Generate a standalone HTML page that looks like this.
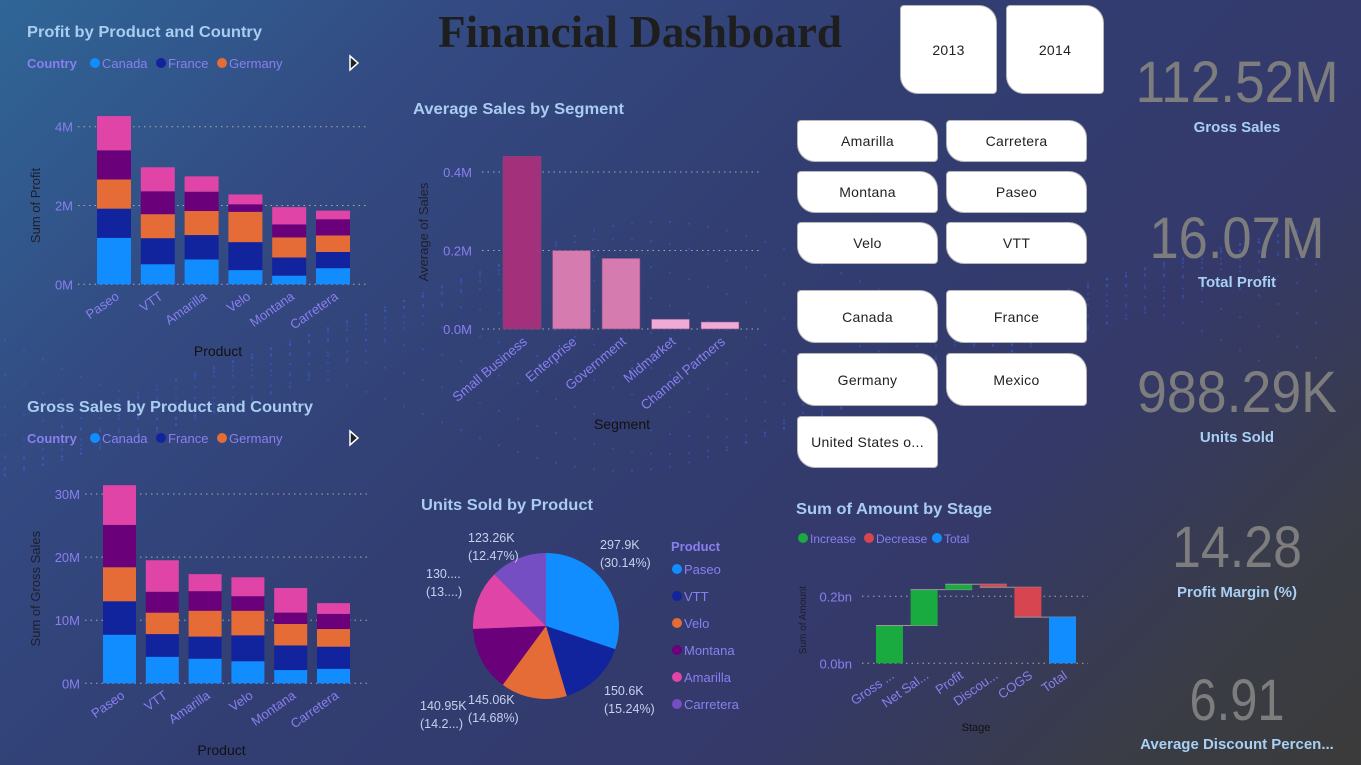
<!DOCTYPE html>
<html><head><meta charset="utf-8"><style>
html,body{margin:0;padding:0;width:1361px;height:765px;overflow:hidden}
body{background:linear-gradient(135deg,#2f6697 0%,#334a82 22%,#323e72 45%,#34396a 70%,#3a3c46 88%,#3b3b3b 100%);font-family:"Liberation Sans",sans-serif;position:relative}
svg{position:absolute;left:0;top:0}
.btn{position:absolute;background:#fff;border:1px solid #b8b8b8;box-sizing:border-box;display:flex;align-items:center;justify-content:center;font-size:14px;color:#222;border-radius:4px 18px 4px 18px;letter-spacing:0.3px}
</style></head><body>
<svg id="dash" width="1361" height="765"></svg>
<div class="btn" style="left:900px;top:5px;width:97px;height:89px">2013</div>
<div class="btn" style="left:1006px;top:5px;width:98px;height:89px">2014</div>
<div class="btn" style="left:797px;top:120px;width:141px;height:42px">Amarilla</div>
<div class="btn" style="left:946px;top:120px;width:141px;height:42px">Carretera</div>
<div class="btn" style="left:797px;top:171px;width:141px;height:42px">Montana</div>
<div class="btn" style="left:946px;top:171px;width:141px;height:42px">Paseo</div>
<div class="btn" style="left:797px;top:222px;width:141px;height:42px">Velo</div>
<div class="btn" style="left:946px;top:222px;width:141px;height:42px">VTT</div>
<div class="btn" style="left:797px;top:290px;width:141px;height:53px">Canada</div>
<div class="btn" style="left:946px;top:290px;width:141px;height:53px">France</div>
<div class="btn" style="left:797px;top:353px;width:141px;height:53px">Germany</div>
<div class="btn" style="left:946px;top:353px;width:141px;height:53px">Mexico</div>
<div class="btn" style="left:797px;top:416px;width:141px;height:52px">United States o...</div>
<script>
const products=["Paseo","VTT","Amarilla","Velo","Montana","Carretera"];
const countries=["Canada","France","Germany","Mexico","United States"];
const countryColors=["#118dff","#12239e","#e66c37","#6b007b","#e044a7"];
const profitCanada=[1.18,0.51,0.63,0.36,0.22,0.41];
const profitFrance=[0.74,0.66,0.62,0.71,0.46,0.41];
const profitGermany=[0.74,0.61,0.61,0.77,0.51,0.42];
const profitMexico=[0.74,0.58,0.49,0.19,0.33,0.41];
const profitUS=[0.87,0.61,0.39,0.25,0.44,0.22];
const profitTicks=[0,2,4];
const grossCanada=[7.7,4.2,3.9,3.5,2.1,2.3];
const grossFrance=[5.3,3.6,3.5,4.1,3.9,3.5];
const grossGermany=[5.4,3.4,4.1,3.9,3.4,2.8];
const grossMexico=[6.7,3.3,3.1,2.3,1.8,2.4];
const grossUS=[6.3,5.0,2.7,3.0,3.9,1.7];
const grossTicks=[0,10,20,30];
const segments=["Small Business","Enterprise","Government","Midmarket","Channel Partners"];
const segmentSales=[0.44,0.20,0.18,0.025,0.018];
const segmentTicks=[0,0.2,0.4];
const pieProducts=["Paseo","VTT","Velo","Montana","Amarilla","Carretera"];
const pieUnits=[297.9,150.6,145.06,140.95,130.0,123.26];
const pieLabels=[["297.9K","(30.14%)"],["150.6K","(15.24%)"],["145.06K","(14.68%)"],["140.95K","(14.2...)"],["130....","(13....)"],["123.26K","(12.47%)"]];
const stages=["Gross ...","Net Sal...","Profit","Discou...","COGS","Total"];
const stageDelta=[0.113,0.107,0.016,-0.009,-0.089,0];
const stageTicks=[0,0.2];
const kpiValues=["112.52M","16.07M","988.29K","14.28","6.91"];
const kpiLabels=["Gross Sales","Total Profit","Units Sold","Profit Margin (%)","Average Discount Percen..."];

const NS="http://www.w3.org/2000/svg";
const svg=document.getElementById('dash');
function el(tag,attrs,parent,text){const e=document.createElementNS(NS,tag);for(const k in attrs)e.setAttribute(k,attrs[k]);if(text!==undefined)e.textContent=text;(parent||svg).appendChild(e);return e;}
const LAV="#8a7ff0",TITLE="#a9cdf0";

// decorative dots wave
(function(){const g=el('g',{});
for(let r=0;r<10;r++){for(let i=0;i<70;i++){const x=i*19+5;const y=300+r*12+Math.sin(i/7+r/3)*70+Math.cos(i/19)*40;el('circle',{cx:x,cy:y,r:1.2,fill:"#3a6cff",opacity:0.3},g);}}})();

// main title
(function(){const t=el('text',{x:640,y:47,'text-anchor':'middle','font-family':'"Liberation Serif",serif','font-weight':'bold','font-size':45,fill:'#1e1e1e'},svg,'Financial Dashboard');
})();

function chartTitle(x,y,txt,name,w){const t=el('text',{x:x,y:y,'font-size':16,'font-weight':'bold',fill:TITLE,textLength:w,lengthAdjust:'spacingAndGlyphs'},svg,txt);}
function countryLegend(y,name){const g=el('g',{});
el('text',{x:27,y:y+5,'font-size':13,'font-weight':'bold',fill:LAV},g,'Country');
const xs=[95,161,222];const names=["Canada","France","Germany"];
for(let i=0;i<3;i++){const it=el('g',{},g);
el('circle',{cx:xs[i],cy:y,r:5,fill:countryColors[i]},it);el('text',{x:xs[i]+7,y:y+5,'font-size':13,fill:LAV},it,names[i]);}
const arr=el('path',{d:`M350 ${y-7} L358 ${y} L350 ${y+7} Z`,fill:'#222',stroke:'#fff','stroke-width':1.5});}

function stacked(opts){const {series,ticks,y0,y1,vmax,xL,xR,x0,step,bw,yTitle,yTitleX,tickFmt,name,xTitleY}=opts;
const g=el('g',{});
const ys=v=>y0-(v/vmax)*(y0-y1);
ticks.forEach(t=>{const gl=el('line',{x1:xL,x2:xR,y1:ys(t),y2:ys(t),stroke:'#aaa','stroke-dasharray':'1.5 4','stroke-width':1},g);
const tl=el('text',{x:xL-5,y:ys(t)+5,'text-anchor':'end','font-size':13,fill:LAV},g,tickFmt(t));});
products.forEach((p,i)=>{let acc=0;const x=x0+i*step;
series.forEach((s,k)=>{const v=s[i];const r=el('rect',{x:x,y:ys(acc+v),width:bw,height:ys(acc)-ys(acc+v),fill:countryColors[k]},g);
acc+=v;});
const cx=x+bw/2+6;const lab=el('text',{x:cx,y:y0+14,'text-anchor':'end','font-size':13,fill:LAV,transform:`rotate(-35 ${cx} ${y0+14})`},g,p);
});
const yt=el('text',{x:yTitleX,y:(y0+y1)/2,'text-anchor':'middle','font-size':13,fill:'#1e1e2a',transform:`rotate(-90 ${yTitleX} ${(y0+y1)/2})`},g,yTitle);
const xt=el('text',{x:(xL+xR)/2-5,y:xTitleY,'text-anchor':'middle','font-size':14,fill:'#111'},g,'Product');}

chartTitle(27,37,'Profit by Product and Country','profit-chart-title',235);
countryLegend(63,'profit-legend');
stacked({series:[profitCanada,profitFrance,profitGermany,profitMexico,profitUS],ticks:profitTicks,y0:284.3,y1:126.7,vmax:4,xL:78,xR:368,x0:97,step:43.8,bw:34,yTitle:'Sum of Profit',yTitleX:40,tickFmt:t=>t+'M',name:'profit-by-product-chart',xTitleY:356});

chartTitle(27,412,'Gross Sales by Product and Country','gross-sales-chart-title',286);
countryLegend(438,'gross-sales-legend');
stacked({series:[grossCanada,grossFrance,grossGermany,grossMexico,grossUS],ticks:grossTicks,y0:683.3,y1:494,vmax:30,xL:85,xR:368,x0:103,step:42.8,bw:33,yTitle:'Sum of Gross Sales',yTitleX:40,tickFmt:t=>t+'M',name:'gross-sales-by-product-chart',xTitleY:755});

// Average sales by segment
(function(){chartTitle(413,114,'Average Sales by Segment','avg-sales-chart-title',211);
const g=el('g',{});
const y0=329,y1=172,vmax=0.4,ys=v=>y0-v/vmax*(y0-y1);const segCol=["#a3307a","#d57bb0","#d57bb0","#f0aad6","#f0aad6"];
segmentTicks.forEach(t=>{const gl=el('line',{x1:482,x2:762,y1:ys(t),y2:ys(t),stroke:'#aaa','stroke-dasharray':'1.5 4'},g);
const tl=el('text',{x:472,y:ys(t)+5,'text-anchor':'end','font-size':13,fill:LAV},g,t.toFixed(1)+'M');});
segments.forEach((s,i)=>{const x=503+i*49.5;const r=el('rect',{x:x,y:ys(segmentSales[i]),width:38,height:y0-ys(segmentSales[i]),fill:segCol[i],stroke:'#7a4a80','stroke-width':0.6},g);

const cx=x+25;const lab=el('text',{x:cx,y:y0+14,'text-anchor':'end','font-size':13.5,fill:LAV,transform:`rotate(-40 ${cx} ${y0+14})`},g,s);});
const yt=el('text',{x:428,y:232,'text-anchor':'middle','font-size':13,fill:'#1e1e2a',transform:'rotate(-90 428 232)'},g,'Average of Sales');
const xt=el('text',{x:622,y:429,'text-anchor':'middle','font-size':14,fill:'#111'},g,'Segment');})();

// Pie
(function(){chartTitle(421,510,'Units Sold by Product','units-pie-title',172);
const g=el('g',{});
const pc=["#118dff","#12239e","#e66c37","#6b007b","#e044a7","#744ec2"];
const cx=546,cy=626,R=73;const tot=pieUnits.reduce((a,b)=>a+b,0);let a=0;
const lp=[[600,549],[604,695],[468,704],[420,710],[426,578],[468,542]];
pieUnits.forEach((v,i)=>{const a1=a+v/tot*2*Math.PI;const p=(t)=>[cx+R*Math.sin(t),cy-R*Math.cos(t)];const [x1,y1]=p(a),[x2,y2]=p(a1);
const s=el('path',{d:`M${cx} ${cy} L${x1} ${y1} A${R} ${R} 0 ${a1-a>Math.PI?1:0} 1 ${x2} ${y2} Z`,fill:pc[i]},g);a=a1;
const t=el('text',{x:lp[i][0],y:lp[i][1],'font-size':12.5,fill:'#c8d0ee'},g);
el('tspan',{x:lp[i][0],dy:0},t,pieLabels[i][0]);el('tspan',{x:lp[i][0],dy:18},t,pieLabels[i][1]);});
const lg=el('g',{});
el('text',{x:671,y:551,'font-size':13,'font-weight':'bold',fill:LAV},lg,'Product');
pieProducts.forEach((p,i)=>{const y=569+i*27;const it=el('g',{},lg);
el('circle',{cx:677,cy:y,r:5,fill:pc[i]},it);el('text',{x:684,y:y+5,'font-size':13,fill:LAV},it,p);});})();

// Waterfall
(function(){chartTitle(796,514,'Sum of Amount by Stage','waterfall-title',196);
const g=el('g',{});
const lg=el('g',{},g);
[["Increase","#1aab40",803],["Decrease","#d64550",869],["Total","#118dff",937]].forEach(d=>{const it=el('g',{},lg);
el('circle',{cx:d[2],cy:538,r:5,fill:d[1]},it);el('text',{x:d[2]+7,y:543,'font-size':12,fill:LAV},it,d[0]);});
const y0=663.3,ys=v=>y0-v/0.2*67;
stageTicks.forEach(t=>{const gl=el('line',{x1:862,x2:1088,y1:ys(t),y2:ys(t),stroke:'#aaa','stroke-dasharray':'1.5 4'},g);
const tl=el('text',{x:852,y:ys(t)+5,'text-anchor':'end','font-size':13,fill:LAV},g,t.toFixed(1)+'bn');});
let acc=0;stages.forEach((s,i)=>{const x=876+i*34.6;let top,bot,col;
if(i===stages.length-1){top=ys(acc);bot=y0;col="#118dff";}else{const v=stageDelta[i];top=ys(Math.max(acc,acc+v));bot=ys(Math.min(acc,acc+v));col=v>=0?"#1aab40":"#d64550";acc+=v;}
const r=el('rect',{x:x,y:top,width:27,height:Math.max(bot-top,1.5),fill:col},g);
if(i<stages.length-1){const cl=el('line',{x1:x,x2:x+34.6+27,y1:ys(acc),y2:ys(acc),stroke:'#999','stroke-width':1},g);}
const cx=x+19;const lab=el('text',{x:cx,y:y0+14,'text-anchor':'end','font-size':13,fill:LAV,transform:`rotate(-35 ${cx} ${y0+14})`},g,s);});
const yt=el('text',{x:806,y:620,'text-anchor':'middle','font-size':10,fill:'#1e1e2a',transform:'rotate(-90 806 620)'},g,'Sum of Amount');
const xt=el('text',{x:976,y:731,'text-anchor':'middle','font-size':11,fill:'#111'},g,'Stage');})();

// KPIs
(function(){const vy=[102,258,412,567,720],ly=[132,287,442,597,749],wd=[203,175,200,130,95];
kpiValues.forEach((v,i)=>{const t=el('text',{x:1237,y:vy[i],'text-anchor':'middle','font-size':58,fill:'#7d7d7d',textLength:wd[i],lengthAdjust:'spacingAndGlyphs'},svg,v);

const l=el('text',{x:1237,y:ly[i],'text-anchor':'middle','font-size':15,'font-weight':'bold',fill:'#a8d0f5'},svg,kpiLabels[i]);});})();
</script>
</body></html>
